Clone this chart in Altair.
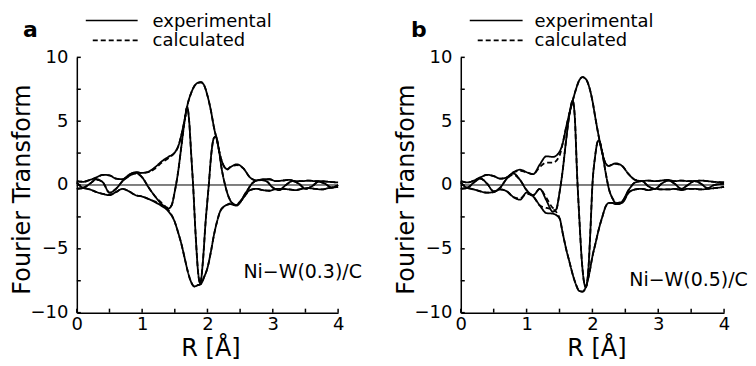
import altair as alt
import pandas as pd

# ---------------- data ----------------
R_ENV = [0, 0.1, 0.2, 0.3, 0.4, 0.5, 0.6, 0.7, 0.8, 0.9, 1.0, 1.1, 1.2, 1.3, 1.4,
         1.5, 1.55, 1.6, 1.65, 1.7, 1.75, 1.8, 1.85, 1.9, 1.95, 2.0, 2.05, 2.1, 2.15,
         2.2, 2.25, 2.3, 2.35, 2.45, 2.55, 2.65, 2.75, 2.85, 2.95, 3.05, 3.15, 3.25,
         3.35, 3.45, 3.55, 3.65, 3.75, 3.85, 4.0]

# panel a : Ni-W(0.3)/C
A_UP_EXP = [0.3, 0.25, 0.4, 0.6, 0.8, 0.75, 0.5, 0.45, 0.8, 1.0, 0.95, 1.05, 1.4, 1.85, 2.2,
            2.55, 3.0, 3.9, 5.1, 6.4, 7.2, 7.75, 8.0, 8.05, 7.8, 7.0, 5.9, 4.5, 3.4,
            2.2, 1.5, 1.25, 1.4, 1.62, 1.3, 0.6, 0.35, 0.45, 0.45, 0.3, 0.35, 0.4,
            0.3, 0.3, 0.35, 0.3, 0.3, 0.25, 0.2]
A_UP_CALC = [0.3, 0.25, 0.4, 0.55, 0.8, 0.75, 0.5, 0.45, 0.8, 1.0, 0.95, 1.0, 1.3, 1.75, 2.1,
             2.55, 3.0, 3.9, 5.1, 6.4, 7.2, 7.75, 8.0, 8.05, 7.8, 7.0, 5.9, 4.5, 3.4,
             2.2, 1.5, 1.2, 1.4, 1.55, 1.3, 0.6, 0.35, 0.4, 0.45, 0.3, 0.35, 0.4,
             0.3, 0.3, 0.35, 0.3, 0.3, 0.25, 0.2]
A_LOW_EXP = [-0.3, -0.25, -0.35, -0.55, -0.7, -0.8, -0.55, -0.3, -0.5, -0.8, -0.9, -1.1, -1.35, -1.65, -2.05,
             -2.9, -3.7, -4.6, -5.7, -6.8, -7.6, -7.95, -7.85, -7.75, -7.2, -6.5, -5.3, -3.9, -2.8,
             -2.0, -1.7, -1.55, -1.5, -1.6, -1.0, -0.4, -0.3, -0.4, -0.45, -0.3, -0.3, -0.35,
             -0.4, -0.3, -0.25, -0.3, -0.35, -0.25, -0.15]
A_LOW_CALC = [-0.3, -0.25, -0.35, -0.55, -0.7, -0.75, -0.55, -0.3, -0.5, -0.8, -0.9, -1.1, -1.3, -1.6, -1.95,
              -2.9, -3.7, -4.6, -5.7, -6.8, -7.6, -7.95, -7.85, -7.75, -7.2, -6.5, -5.3, -3.9, -2.8,
              -2.0, -1.7, -1.55, -1.45, -1.6, -1.0, -0.4, -0.3, -0.4, -0.45, -0.3, -0.3, -0.35,
              -0.4, -0.3, -0.25, -0.3, -0.35, -0.25, -0.15]
R_IM_A = [0, 0.1, 0.2, 0.3, 0.4, 0.5, 0.6, 0.7, 0.8, 0.9, 1.0, 1.1, 1.2, 1.3, 1.4,
          1.45, 1.5, 1.55, 1.6, 1.65, 1.69, 1.72, 1.75, 1.78, 1.82, 1.86, 1.89, 1.93, 1.97,
          2.02, 2.06, 2.1, 2.13, 2.17, 2.22, 2.27, 2.33, 2.43, 2.5, 2.6, 2.7, 2.8, 2.9, 3.0,
          3.1, 3.2, 3.3, 3.4, 3.5, 3.6, 3.7, 3.8, 3.9, 4.0]
A_IM_EXP = [0.2, -0.2, 0.1, 0.45, 0.2, -0.6, -0.3, 0.3, 0.7, 0.95, 0.6, -0.2, -0.9, -1.5, -1.85,
            -1.6, -0.5, 1.0, 3.0, 5.0, 6.1, 5.0, 2.5, 0.0, -4.0, -7.0, -7.7, -6.0, -3.0,
            0.0, 2.5, 3.7, 3.8, 2.9, 1.2, 0.0, -1.0, -1.6, -1.3, -0.5, 0.2, 0.4, 0.3, -0.2,
            -0.4, 0.0, 0.3, 0.1, -0.3, -0.1, 0.25, 0.1, -0.2, 0.0]
A_IM_CALC = [0.2, -0.2, 0.1, 0.4, 0.2, -0.6, -0.3, 0.3, 0.7, 0.9, 0.6, -0.2, -0.9, -1.4, -1.8,
             -1.6, -0.5, 1.0, 3.0, 5.0, 6.1, 5.0, 2.5, 0.0, -4.0, -7.0, -7.7, -6.0, -3.0,
             0.0, 2.5, 3.7, 3.8, 2.9, 1.2, 0.0, -1.0, -1.55, -1.3, -0.5, 0.2, 0.4, 0.3, -0.2,
             -0.4, 0.0, 0.3, 0.1, -0.3, -0.1, 0.25, 0.1, -0.2, 0.0]

# panel b : Ni-W(0.5)/C
B_UP_EXP = [0.3, 0.2, 0.35, 0.6, 0.8, 0.7, 0.5, 0.6, 1.0, 1.2, 1.0, 0.85, 1.6, 2.25, 2.2,
            2.6, 3.3, 4.5, 5.6, 6.6, 7.5, 8.2, 8.45, 8.3, 7.7, 6.6, 5.1, 3.7, 2.5,
            1.7, 1.5, 1.6, 1.7, 1.5, 0.85, 0.4, 0.3, 0.35, 0.3, 0.35, 0.4, 0.3,
            0.35, 0.3, 0.3, 0.35, 0.3, 0.25, 0.2]
B_UP_CALC = [0.3, 0.2, 0.35, 0.6, 0.8, 0.7, 0.5, 0.6, 1.0, 1.1, 1.0, 0.85, 1.4, 1.75, 1.75,
             2.3, 3.3, 4.5, 5.6, 6.6, 7.5, 8.2, 8.45, 8.3, 7.7, 6.6, 5.1, 3.7, 2.5,
             1.7, 1.5, 1.6, 1.65, 1.5, 0.85, 0.4, 0.3, 0.35, 0.3, 0.35, 0.4, 0.3,
             0.35, 0.3, 0.3, 0.35, 0.3, 0.25, 0.2]
B_LOW_EXP = [-0.3, -0.25, -0.35, -0.5, -0.6, -0.55, -0.35, -0.5, -0.95, -1.15, -0.6, -0.9, -1.6, -2.2, -2.25,
             -2.6, -3.8, -5.0, -6.0, -7.0, -7.8, -8.3, -8.35, -8.0, -7.0, -5.6, -4.5, -3.4, -2.5,
             -1.7, -1.4, -1.4, -1.5, -1.4, -0.6, -0.35, -0.3, -0.4, -0.3, -0.35, -0.35, -0.3,
             -0.4, -0.3, -0.3, -0.35, -0.3, -0.25, -0.15]
B_LOW_CALC = [-0.3, -0.25, -0.35, -0.5, -0.6, -0.55, -0.35, -0.5, -0.95, -1.05, -0.7, -0.9, -1.6, -1.8, -1.9,
              -2.6, -3.8, -5.0, -6.0, -7.0, -7.8, -8.3, -8.35, -8.0, -7.0, -5.6, -4.5, -3.4, -2.5,
              -1.7, -1.4, -1.4, -1.5, -1.4, -0.6, -0.35, -0.3, -0.4, -0.3, -0.35, -0.35, -0.3,
              -0.4, -0.3, -0.3, -0.35, -0.3, -0.25, -0.15]
R_IM_B = [0, 0.1, 0.2, 0.3, 0.4, 0.5, 0.6, 0.7, 0.8, 0.9, 1.0, 1.1, 1.2, 1.3, 1.4,
          1.45, 1.5, 1.55, 1.6, 1.65, 1.7, 1.73, 1.77, 1.8, 1.84, 1.88, 1.9, 1.94, 1.97,
          2.0, 2.04, 2.08, 2.1, 2.14, 2.2, 2.25, 2.3, 2.38, 2.45, 2.55, 2.65, 2.75, 2.85,
          2.95, 3.05, 3.15, 3.25, 3.35, 3.45, 3.55, 3.65, 3.75, 3.85, 4.0]
B_IM_EXP = [0.2, -0.2, 0.2, 0.5, 0.1, -0.5, -0.2, 0.5, 0.9, 0.4, -0.4, -0.8, -0.3, -1.2, -2.1,
            -1.9, -0.6, 1.2, 3.5, 5.5, 6.6, 5.5, 0.5, -2.5, -6.0, -7.8, -8.0, -6.5, -3.5,
            0.0, 2.2, 3.4, 3.5, 2.8, 1.0, -0.3, -1.0, -1.5, -1.3, -0.4, 0.2, 0.3, -0.1,
            -0.3, 0.1, 0.35, 0.1, -0.3, 0.0, 0.3, 0.1, -0.25, 0.0, 0.1]
B_IM_CALC = [0.2, -0.2, 0.2, 0.5, 0.1, -0.5, -0.2, 0.5, 0.8, 0.4, -0.4, -0.8, -0.3, -1.0, -1.8,
             -1.9, -0.6, 1.2, 3.5, 5.5, 6.6, 5.5, 0.5, -2.5, -6.0, -7.8, -8.0, -6.5, -3.5,
             0.0, 2.2, 3.4, 3.5, 2.8, 1.0, -0.3, -1.0, -1.4, -1.3, -0.4, 0.2, 0.3, -0.1,
             -0.3, 0.1, 0.35, 0.1, -0.3, 0.0, 0.3, 0.1, -0.25, 0.0, 0.1]

X_LABELS = [0, 1, 2, 3, 4]
Y_LABELS = [-10, -5, 0, 5, 10]
X_TICKS = [0, 0.5, 1, 1.5, 2, 2.5, 3, 3.5, 4]
Y_TICKS = [-10, -7.5, -5, -2.5, 0, 2.5, 5, 7.5, 10]
KINDS = ["experimental", "calculated"]

FONT = "DejaVu Sans"
H = 256


def curves_df(spec):
    rows = []
    for curve, kind, rs, vs in spec:
        for r, v in zip(rs, vs):
            rows.append({"curve": curve + "-" + kind, "kind": kind, "R": r, "v": v})
    return pd.DataFrame(rows)


def make_panel(spec, W, letter, letter_x, leg_x0, leg_x1, dash_x0, leg_tx,
               sample, sample_x, sample_y, xtitle_x):
    df = curves_df(spec)
    one = pd.DataFrame({"k": [0]})
    lines = alt.Chart(df).mark_line(interpolate="monotone", color="black",
                                    strokeWidth=1.8).encode(
        x=alt.X("R:Q", scale=alt.Scale(domain=[0, 4], nice=False, zero=False),
                axis=alt.Axis(values=X_LABELS, format="d", labelPadding=3,
                              labelFlush=False, labelOverlap=False,
                              title="R  [Å]", titleX=xtitle_x, titleY=43,
                              titleBaseline="alphabetic")),
        y=alt.Y("v:Q", scale=alt.Scale(domain=[-10, 10], nice=False),
                axis=alt.Axis(values=Y_LABELS, labelPadding=9, labelFlush=False,
                              labelOverlap=False,
                              title="Fourier Transform", titleX=-54, titleY=132,
                              titleBaseline="middle")),
        detail="curve:N",
        strokeDash=alt.StrokeDash("kind:N",
                                  scale=alt.Scale(domain=KINDS, range=[[1, 0], [5, 3]]),
                                  legend=None),
    )
    zero = alt.Chart(pd.DataFrame({"R": [0], "R2": [4], "v": [0]})).mark_rule(
        color="black", strokeWidth=1).encode(x="R:Q", x2="R2:Q", y="v:Q")
    xt = alt.Chart(pd.DataFrame({"R": X_TICKS})).mark_rule(
        color="black", strokeWidth=1.5).encode(x="R:Q", y=alt.value(H), y2=alt.value(H - 4))
    yt = alt.Chart(pd.DataFrame({"v": Y_TICKS})).mark_rule(
        color="black", strokeWidth=1.5).encode(y="v:Q", x=alt.value(0), x2=alt.value(4))
    leg1 = alt.Chart(one).mark_rule(color="black", strokeWidth=1.6).encode(
        x=alt.value(leg_x0), x2=alt.value(leg_x1), y=alt.value(-37))
    leg2 = alt.Chart(one).mark_rule(color="black", strokeWidth=1.6,
                                    strokeDash=[5, 3]).encode(
        x=alt.value(dash_x0), x2=alt.value(leg_x1), y=alt.value(-17))
    t1 = alt.Chart(one).mark_text(text=KINDS[0], align="left", baseline="alphabetic",
                                  font=FONT, fontSize=18, color="black").encode(
        x=alt.value(leg_tx), y=alt.value(-30))
    t2 = alt.Chart(one).mark_text(text=KINDS[1], align="left", baseline="alphabetic",
                                  font=FONT, fontSize=18, color="black").encode(
        x=alt.value(leg_tx), y=alt.value(-11))
    let = alt.Chart(one).mark_text(text=letter, align="left", baseline="alphabetic",
                                   font=FONT, fontSize=22, fontWeight="bold",
                                   color="black").encode(
        x=alt.value(letter_x), y=alt.value(-20))
    samp = alt.Chart(one).mark_text(text=sample, align="left", baseline="alphabetic",
                                    font=FONT, fontSize=19, color="black").encode(
        x=alt.datum(sample_x), y=alt.datum(sample_y))
    return alt.layer(zero, lines, xt, yt, leg1, leg2, t1, t2, let, samp).properties(
        width=W, height=H)


spec_a = [("up", "experimental", R_ENV, A_UP_EXP), ("low", "experimental", R_ENV, A_LOW_EXP),
          ("im", "experimental", R_IM_A, A_IM_EXP),
          ("up", "calculated", R_ENV, A_UP_CALC), ("low", "calculated", R_ENV, A_LOW_CALC),
          ("im", "calculated", R_IM_A, A_IM_CALC)]
spec_b = [("up", "experimental", R_ENV, B_UP_EXP), ("low", "experimental", R_ENV, B_LOW_EXP),
          ("im", "experimental", R_IM_B, B_IM_EXP),
          ("up", "calculated", R_ENV, B_UP_CALC), ("low", "calculated", R_ENV, B_LOW_CALC),
          ("im", "calculated", R_IM_B, B_IM_CALC)]

pa = make_panel(spec_a, 262, "a", -54, 9, 61, 16, 76, "Ni\u2212W(0.3)/C", 2.55, -7.27, 134)
pb = make_panel(spec_b, 264, "b", -50, 9, 62, 17, 74, "Ni\u2212W(0.5)/C", 2.56, -7.9, 136)

chart = alt.hconcat(pa, pb, spacing=123, bounds="flush").properties(
    padding={"left": 2, "top": 5, "right": 0, "bottom": 0}
).configure_view(stroke=None).configure_axis(
    domainColor="black", domainWidth=1.5, ticks=False, grid=False,
    labelFont=FONT, labelFontSize=18, labelColor="black",
    titleFont=FONT, titleFontSize=24, titleFontWeight="normal", titleColor="black",
)

chart.save("out.html", embed_options={"renderer": "svg", "actions": False})
